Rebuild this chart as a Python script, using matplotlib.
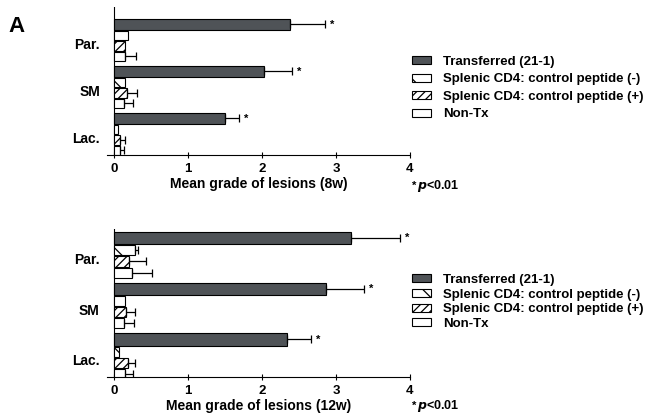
import numpy as np
import matplotlib
matplotlib.use('Agg')
import matplotlib.pyplot as plt
from matplotlib.patches import Patch

plt.rcParams['font.family'] = ['Liberation Sans', 'DejaVu Sans']
plt.rcParams['font.weight'] = 'bold'
plt.rcParams['hatch.linewidth'] = 0.9

# data
groups = ['Par.', 'SM', 'Lac.']
series = ['Transferred (21-1)', 'Splenic CD4: control peptide (-)',
          'Splenic CD4: control peptide (+)', 'Non-Tx']

transferred_8w = [2.37, 2.03, 1.49]
transferred_8w_err = [0.48, 0.37, 0.20]
ctrl_neg_8w = [0.19, 0.14, 0.05]
ctrl_neg_8w_err = [0.0, 0.0, 0.0]
ctrl_pos_8w = [0.15, 0.17, 0.08]
ctrl_pos_8w_err = [0.0, 0.13, 0.06]
nontx_8w = [0.14, 0.13, 0.08]
nontx_8w_err = [0.15, 0.12, 0.05]

transferred_12w = [3.20, 2.86, 2.34]
transferred_12w_err = [0.66, 0.52, 0.32]
ctrl_neg_12w = [0.29, 0.15, 0.07]
ctrl_neg_12w_err = [0.04, 0.0, 0.0]
ctrl_pos_12w = [0.21, 0.17, 0.19]
ctrl_pos_12w_err = [0.23, 0.12, 0.09]
nontx_12w = [0.24, 0.13, 0.15]
nontx_12w_err = [0.27, 0.14, 0.11]

xticks = [0, 1, 2, 3, 4]

# styles per series
colors = ['#4f5357', 'white', 'white', 'white']
hatches = [None, '\\', '////', None]
offsets = [-0.40, -0.16, 0.06, 0.28]
heights = [0.24, 0.2, 0.2, 0.2]

fig = plt.figure(figsize=(6.53, 4.16), dpi=100)
ax1 = fig.add_axes([107 / 653, 1 - 155 / 416, 303 / 653, 148 / 416])
ax2 = fig.add_axes([106.5 / 653, 1 - 377 / 416, 303.5 / 653, 148 / 416])

panels = [
    (ax1, [transferred_8w, ctrl_neg_8w, ctrl_pos_8w, nontx_8w],
     [transferred_8w_err, ctrl_neg_8w_err, ctrl_pos_8w_err, nontx_8w_err],
     'Mean grade of lesions (8w)', (-0.77, 2.38)),
    (ax2, [transferred_12w, ctrl_neg_12w, ctrl_pos_12w, nontx_12w],
     [transferred_12w_err, ctrl_neg_12w_err, ctrl_pos_12w_err, nontx_12w_err],
     'Mean grade of lesions (12w)', (-0.58, 2.34)),
]

for ax, vals, errs, xlabel, ylim in panels:
    y = np.arange(len(groups))
    for i in range(4):
        ax.barh(y + offsets[i], vals[i], height=heights[i], color=colors[i],
                edgecolor='black', linewidth=0.8, hatch=hatches[i], zorder=2)
        e = np.array(errs[i])
        m = e > 0
        if m.any():
            ax.errorbar(np.array(vals[i])[m], (y + offsets[i])[m],
                        xerr=[np.zeros(m.sum()), e[m]], fmt='none',
                        ecolor='black', elinewidth=0.9, capsize=3, capthick=0.9, zorder=3)
    # significance stars
    for j in range(len(groups)):
        ax.text(vals[0][j] + errs[0][j] + 0.07, y[j] + offsets[0], '*',
                fontsize=8, va='center', ha='left')
    ax.set_xlim(-0.1, 4.0)
    ax.set_ylim(ylim[1], ylim[0])
    ax.axvline(0, color='black', linewidth=0.8, zorder=1)
    ax.set_yticks(y)
    ax.set_yticklabels(groups, fontsize=10, fontweight='bold')
    ax.tick_params(axis='y', length=0, pad=5)
    ax.set_xticks(xticks)
    ax.set_xticklabels([str(t) for t in xticks], fontsize=9.5, fontweight='bold')
    ax.tick_params(axis='x', direction='inout', length=5, width=0.8, pad=3)
    for s in ['top', 'right', 'left']:
        ax.spines[s].set_visible(False)
    ax.spines['bottom'].set_linewidth(0.8)
    ax.set_xlabel(xlabel, fontsize=10, fontweight='bold', labelpad=2)

# legends
handles = [Patch(facecolor=colors[i], edgecolor='black', hatch=hatches[i], linewidth=0.8)
           for i in range(4)]
for ycen, spacing in [(88, 0.42), (302, 0.2)]:
    fig.legend(handles, series, loc='center left',
               bbox_to_anchor=(400 / 653, 1 - ycen / 416),
               frameon=False, handlelength=1.45, handleheight=0.55,
               handletextpad=0.9, labelspacing=spacing,
               prop={'weight': 'bold', 'size': 9.5})

# p-value notes
for ypix in [186, 406]:
    fig.text(412 / 653, 1 - ypix / 416, '*', fontsize=8, fontweight='bold', va='center')
    fig.text(417 / 653, 1 - ypix / 416, r'$\mathit{p}$<0.01', fontsize=9,
             fontweight='bold', va='center')

fig.text(8 / 653, 1 - 27 / 416, 'A', fontsize=16, fontweight='bold', va='center')

fig.savefig('out.png', dpi=100)
